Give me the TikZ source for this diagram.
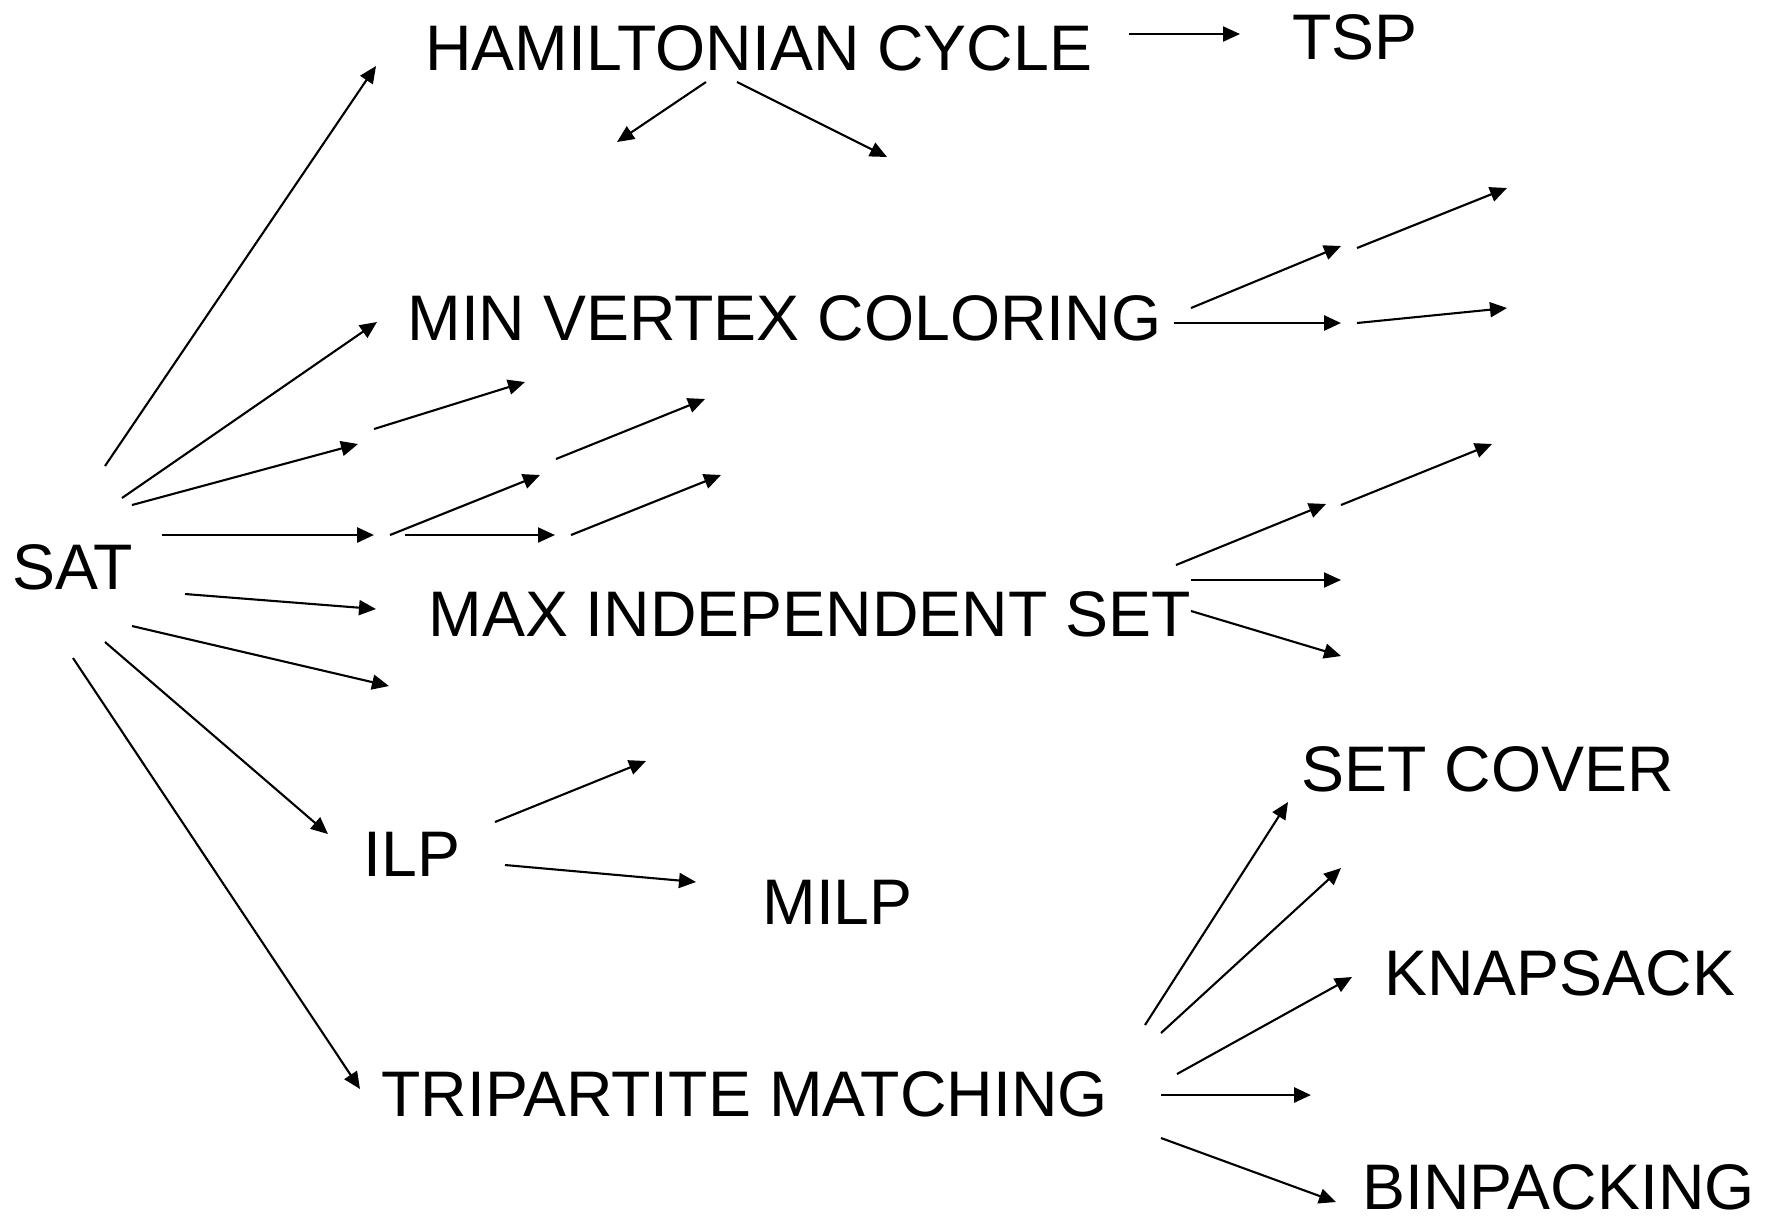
\documentclass[tikz,border=0pt]{standalone}
\usepackage{fontspec}
\setmainfont{Liberation Sans}
\usetikzlibrary{arrows.meta}
\begin{document}
\begin{tikzpicture}[x=0.5pt,y=-0.5pt,
  lbl/.style={anchor=base west,inner sep=0pt,font=\fontsize{32.2pt}{39pt}\selectfont},
  arr/.style={-{Triangle[length=8.5pt,width=7.5pt]},line width=1.05pt},
  harr/.style={arr,line width=1.45pt}]
\path[use as bounding box] (0,0) rectangle (1766,1223);
\fill[white] (0,0) rectangle (1766,1223);
% labels
\node[lbl] (ham)  at (425,70)   {HAMILTONIAN CYCLE};
\node[lbl] (tsp)  at (1292,59)  {TSP};
\node[lbl] (mvc)  at (407,340)  {MIN VERTEX COLORING};
\node[lbl] (sat)  at (12,589)   {SAT};
\node[lbl] (mis)  at (428,636)  {MAX INDEPENDENT SET};
\node[lbl] (setc) at (1301,791) {SET COVER};
\node[lbl] (ilp)  at (363,876)  {ILP};
\node[lbl] (milp) at (762,924)  {MILP};
\node[lbl] (tri)  at (381,1116) {TRIPARTITE MATCHING};
\node[lbl] (knap) at (1384,995) {KNAPSACK};
\node[lbl] (bin)  at (1362,1209) {BINPACKING};
% connector end points
\coordinate (p1s) at (105,466);  \coordinate (p1e) at (376,66);
\coordinate (p2s) at (122,498);  \coordinate (p2e) at (377,322);
\coordinate (p3s) at (132,505);  \coordinate (p3e) at (358,444);
\coordinate (p4s) at (162,535);  \coordinate (p4e) at (374,535);
\coordinate (p5s) at (185,594);  \coordinate (p5e) at (376,609);
\coordinate (p6s) at (132,626);  \coordinate (p6e) at (389,686);
\coordinate (p7s) at (105,642);  \coordinate (p7e) at (328,834);
\coordinate (p8s) at (73,658);   \coordinate (p8e) at (360,1089);
\coordinate (p9s) at (374,429);  \coordinate (p9e) at (525,382);
\coordinate (p10s) at (390,535); \coordinate (p10e) at (540,475);
\coordinate (p11s) at (405,535); \coordinate (p11e) at (555,535);
\coordinate (p12s) at (556,459); \coordinate (p12e) at (705,399);
\coordinate (p13s) at (571,535); \coordinate (p13e) at (721,475);
\coordinate (p14s) at (706,82);  \coordinate (p14e) at (617,142);
\coordinate (p15s) at (737,82);  \coordinate (p15e) at (887,157);
\coordinate (p16s) at (1129,34); \coordinate (p16e) at (1240,34);
\coordinate (p17s) at (1191,308); \coordinate (p17e) at (1341,246);
\coordinate (p18s) at (1174,323); \coordinate (p18e) at (1341,323);
\coordinate (p19s) at (1357,248); \coordinate (p19e) at (1507,188);
\coordinate (p20s) at (1357,323); \coordinate (p20e) at (1507,308);
\coordinate (p21s) at (1176,565); \coordinate (p21e) at (1326,504);
\coordinate (p22s) at (1341,505); \coordinate (p22e) at (1492,444);
\coordinate (p23s) at (1191,580); \coordinate (p23e) at (1341,580);
\coordinate (p24s) at (1191,611); \coordinate (p24e) at (1341,656);
\coordinate (p25s) at (495,822);  \coordinate (p25e) at (646,761);
\coordinate (p26s) at (505,865);  \coordinate (p26e) at (696,882);
\coordinate (p27s) at (1145,1025); \coordinate (p27e) at (1288,802);
\coordinate (p28s) at (1161,1033); \coordinate (p28e) at (1341,868);
\coordinate (p29s) at (1177,1074); \coordinate (p29e) at (1352,977);
\coordinate (p30s) at (1161,1095); \coordinate (p30e) at (1311,1095);
\coordinate (p31s) at (1161,1138); \coordinate (p31e) at (1336,1202);
% connectors
\draw[arr] (p1s) -- (p1e);
\draw[arr] (p2s) -- (p2e);
\draw[arr] (p3s) -- (p3e);
\draw[harr] (p4s) -- (p4e);
\draw[arr] (p5s) -- (p5e);
\draw[arr] (p6s) -- (p6e);
\draw[arr] (p7s) -- (p7e);
\draw[arr] (p8s) -- (p8e);
\draw[arr] (p9s) -- (p9e);
\draw[arr] (p10s) -- (p10e);
\draw[arr] (p11s) -- (p11e);
\draw[arr] (p12s) -- (p12e);
\draw[arr] (p13s) -- (p13e);
\draw[arr] (p14s) -- (p14e);
\draw[arr] (p15s) -- (p15e);
\draw[arr] (p16s) -- (p16e);
\draw[arr] (p17s) -- (p17e);
\draw[harr] (p18s) -- (p18e);
\draw[arr] (p19s) -- (p19e);
\draw[arr] (p20s) -- (p20e);
\draw[arr] (p21s) -- (p21e);
\draw[arr] (p22s) -- (p22e);
\draw[arr] (p23s) -- (p23e);
\draw[arr] (p24s) -- (p24e);
\draw[arr] (p25s) -- (p25e);
\draw[arr] (p26s) -- (p26e);
\draw[arr] (p27s) -- (p27e);
\draw[arr] (p28s) -- (p28e);
\draw[arr] (p29s) -- (p29e);
\draw[harr] (p30s) -- (p30e);
\draw[arr] (p31s) -- (p31e);
\end{tikzpicture}
\end{document}
